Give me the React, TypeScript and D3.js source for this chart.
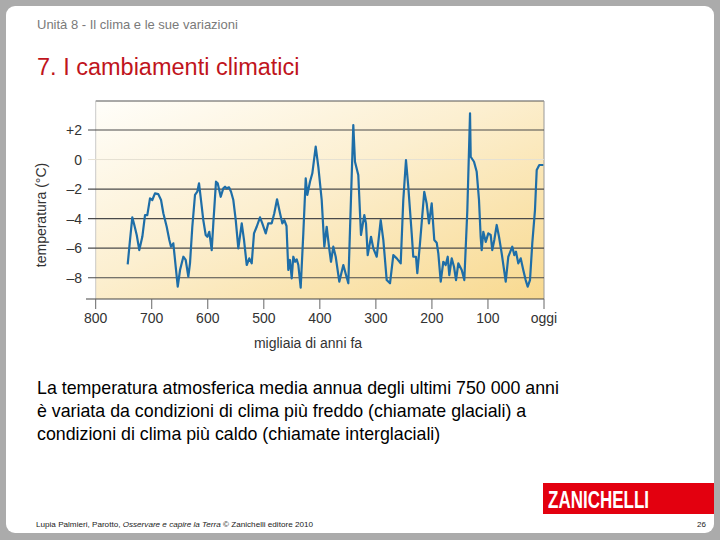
import React from 'react';
import * as d3 from 'd3';

// migliaia di anni fa (kyr before present) and temperature (°C)
const years = [
  742.9, 738.8, 734.7, 731.1, 726.8, 722.2, 716.8, 712.0, 707.9, 703.1, 699.0, 694.2, 688.3, 683.4, 679.3,
  673.3, 668.6, 665.6, 661.5, 657.2, 653.6, 649.5, 643.6, 639.4, 634.7, 631.7, 627.6, 622.8, 618.7, 615.6,
  612.1, 608.0, 603.7, 600.8, 597.3, 593.0, 590.1, 585.3, 582.3, 576.9, 572.3, 569.2, 566.2, 562.1, 558.5,
  554.4, 550.1, 545.5, 539.4, 535.3, 530.5, 525.9, 521.6, 517.5, 512.7, 506.8, 502.7, 496.6, 492.0, 485.9,
  481.3, 476.4, 471.1, 467.0, 463.4, 459.5, 456.3, 453.3, 450.2, 447.4, 444.3, 441.3, 438.4, 434.2, 429.5,
  425.2, 422.4, 417.6, 413.4, 407.4, 402.7, 396.7, 392.0, 387.8, 383.7, 380.1, 376.0, 371.7, 365.3, 358.1,
  353.3, 349.2, 340.3, 337.3, 331.4, 326.6, 320.7, 317.7, 314.6, 308.7, 304.6, 298.5, 291.4, 286.7, 280.7,
  274.8, 268.9, 262.8, 255.7, 251.1, 246.3, 242.2, 236.1, 233.3, 228.4, 226.1, 221.3, 213.7, 209.4, 205.3,
  200.4, 195.8, 191.5, 188.6, 184.3, 179.7, 175.4, 171.8, 169.0, 164.7, 160.6, 157.0, 152.9, 146.8, 142.2,
  136.8, 132.0, 130.8, 124.9, 120.1, 116.0, 113.0, 111.2, 108.3, 104.0, 99.4, 95.1, 92.3, 88.7, 84.4,
  80.3, 75.5, 68.3, 63.7, 56.6, 53.0, 50.0, 45.9, 41.6, 37.0, 32.7, 29.1, 25.0, 20.9, 16.1,
  13.0, 8.4, 1.2,
];
const temps = [
  -7.1, -5.45, -3.91, -4.43, -5.11, -6.13, -5.23, -3.76, -3.76, -2.63, -2.74, -2.29, -2.34, -2.74, -3.64,
  -4.55, -5.45, -5.9, -5.67, -7.26, -8.61, -7.48, -6.58, -6.8, -7.93, -7.01, -4.55, -2.4, -2.18, -1.61,
  -2.74, -4.1, -5.11, -5.23, -4.89, -6.13, -4.32, -1.5, -1.61, -2.52, -1.95, -1.84, -1.95, -1.88, -2.18,
  -2.74, -4.1, -6.01, -4.32, -5.45, -7.14, -6.69, -7.03, -5.0, -4.55, -3.91, -4.32, -5.0, -4.32, -4.32,
  -3.64, -2.69, -3.64, -4.32, -4.1, -4.5, -7.48, -6.8, -8.04, -6.58, -6.92, -6.76, -7.14, -8.68, -5.0,
  -1.27, -2.4, -1.5, -0.93, 0.87, -0.49, -2.74, -5.9, -4.55, -5.9, -6.92, -5.9, -6.58, -8.27, -7.14,
  -7.82, -8.38, 2.34, -0.15, -1.05, -5.11, -3.76, -4.32, -6.47, -5.23, -6.01, -6.58, -4.1, -5.45, -8.16,
  -8.38, -6.47, -6.69, -7.03, -2.74, -0.03, -1.84, -5.0, -6.58, -6.58, -7.7, -5.67, -2.18, -2.97, -4.32,
  -2.97, -5.45, -5.63, -6.35, -8.27, -6.92, -7.14, -6.58, -7.82, -6.69, -7.26, -8.16, -7.03, -7.48, -8.16,
  -3.42, 3.13, 0.19, -0.15, -0.83, -2.74, -5.23, -6.13, -4.89, -5.57, -5.0, -5.11, -6.13, -5.45, -4.43,
  -5.23, -6.35, -8.27, -6.58, -5.9, -6.47, -6.24, -7.03, -6.69, -7.48, -8.16, -8.61, -8.16, -5.67, -3.42,
  -0.71, -0.37, -0.37,
];

const xTicks = [800, 700, 600, 500, 400, 300, 200, 100, 0];
const xTickLabels = ['800', '700', '600', '500', '400', '300', '200', '100', 'oggi'];
const yTicks = [2, 0, -2, -4, -6, -8];
const yTickLabels = ['+2', '0', '\u20132', '\u20134', '\u20136', '\u20138'];

const font = '"Liberation Sans", Arial, sans-serif';

export default function App() {
  const left = 95.7, right = 544, top = 101, bottom = 299;
  const x = d3.scaleLinear().domain([800, 0]).range([left, right]);
  const y = d3.scaleLinear().domain([-8, 2]).range([277.7, 130]);
  const line = d3.line<number>().x((_, i) => x(years[i])).y(d => y(d));

  return (
    <svg width={720} height={540} style={{ position: 'absolute', left: 0, top: 0 }} fontFamily={font}>
      <defs>
        <linearGradient id="bg" x1="0" y1="0" x2="1" y2="1">
          <stop offset="0" stopColor="#fffefa" />
          <stop offset="0.45" stopColor="#fcefd0" />
          <stop offset="1" stopColor="#f8d98f" />
        </linearGradient>
      </defs>
      <rect x={0} y={0} width={720} height={540} fill="#ababab" />
      <rect x={6} y={6} width={708} height={527} rx={9} fill="#ffffff" />

      <text x={37} y={29} fontSize={13} fill="#7a7a7a">Unità 8 - Il clima e le sue variazioni</text>
      <text x={37} y={75} fontSize={23.5} fill="#c0141c">7. I cambiamenti climatici</text>

      {/* chart */}
      <rect x={left} y={top} width={right - left} height={bottom - top} fill="url(#bg)" />
      <line x1={left} x2={right} y1={top} y2={top} stroke="#555" strokeWidth={1.2} />
      <line x1={left} x2={left} y1={top} y2={bottom} stroke="#bbb" strokeWidth={0.8} />
      <line x1={right} x2={right} y1={top} y2={bottom} stroke="#999" strokeWidth={1} />
      {yTicks.map(t => (
        <line key={t} x1={88} x2={right} y1={y(t)} y2={y(t)}
          stroke={t === 0 ? '#e6e0d2' : '#4a4a4a'} strokeWidth={t === 0 ? 1 : 1.1} />
      ))}
      {yTicks.map((t, i) => (
        <text key={t} x={82} y={y(t)} dy="0.36em" textAnchor="end" fontSize={14} fill="#333">{yTickLabels[i]}</text>
      ))}
      <line x1={86} x2={right} y1={bottom} y2={bottom} stroke="#444" strokeWidth={1.2} />
      {xTicks.map(t => (
        <line key={t} x1={x(t)} x2={x(t)} y1={bottom} y2={309} stroke="#666" strokeWidth={1} />
      ))}
      {xTicks.map((t, i) => (
        <text key={t} x={x(t)} y={323} textAnchor="middle" fontSize={14} fill="#333">{xTickLabels[i]}</text>
      ))}
      <text x={308} y={348} textAnchor="middle" fontSize={14} fill="#333">migliaia di anni fa</text>
      <text transform="translate(46,215) rotate(-90)" textAnchor="middle" fontSize={14} fill="#333">temperatura (°C)</text>
      <path d={line(temps) || ''} fill="none" stroke="#1e6ea8" strokeWidth={2.2} strokeLinejoin="round" />

      {/* body text */}
      <text fontSize={17.8} fill="#000">
        <tspan x={37} y={394}>La temperatura atmosferica media annua degli ultimi 750 000 anni</tspan>
        <tspan x={37} y={417}>è variata da condizioni di clima più freddo (chiamate glaciali) a</tspan>
        <tspan x={37} y={440}>condizioni di clima più caldo (chiamate interglaciali)</tspan>
      </text>

      {/* footer */}
      <rect x={543} y={483} width={171} height={31} fill="#e3000f" />
      <text x={548} y={508} fontSize={23} fontWeight="bold" fill="#fff" textLength={101} lengthAdjust="spacingAndGlyphs">ZANICHELLI</text>
      <text x={36} y={527} fontSize={8} fill="#222" textLength={277} lengthAdjust="spacingAndGlyphs">
        Lupia Palmieri, Parotto, <tspan fontStyle="italic">Osservare e capire la Terra</tspan> © Zanichelli editore 2010
      </text>
      <text x={706} y={527} fontSize={8} textAnchor="end" fill="#222">26</text>
    </svg>
  );
}
